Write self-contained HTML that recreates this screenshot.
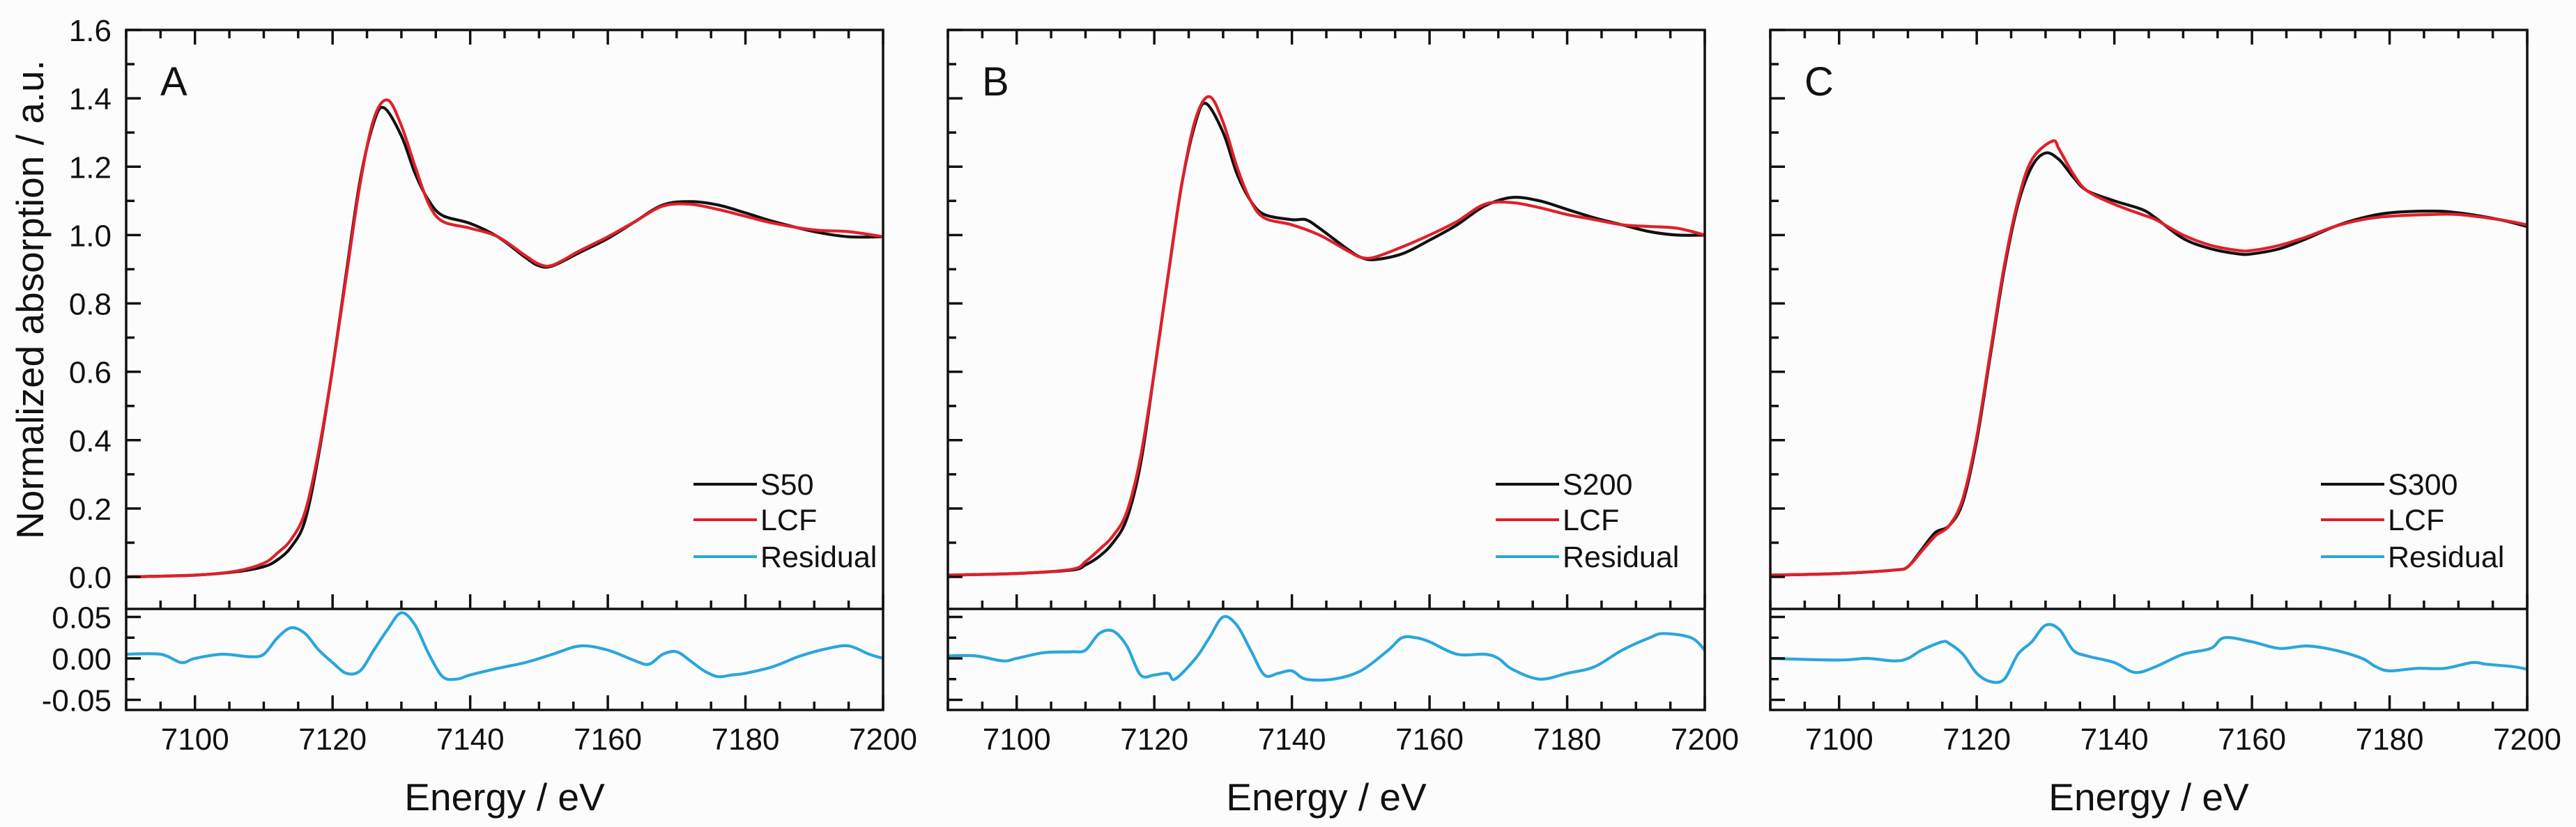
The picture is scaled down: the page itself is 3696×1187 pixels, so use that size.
<!DOCTYPE html>
<html><head><meta charset="utf-8"><style>
html,body{margin:0;padding:0;background:#fcfcfc;}
svg{display:block;font-family:"Liberation Sans",Arial,sans-serif;}
</style></head><body>
<svg id="fig" width="3696" height="1187" viewBox="0 0 3696 1187" xmlns="http://www.w3.org/2000/svg">
<rect x="0" y="0" width="3696" height="1187" fill="#fcfcfc"/>
<text x="62" y="430" font-size="55" text-anchor="middle" transform="rotate(-90 62 430)" fill="#111">Normalized absorption / a.u.</text>
</svg>
<script>
// ---- data ----
const xTicks = [7100, 7120, 7140, 7160, 7180, 7200];
const yTicksMain = [0.0, 0.2, 0.4, 0.6, 0.8, 1.0, 1.2, 1.4, 1.6];
const yTickLabelsMain = ["0.0","0.2","0.4","0.6","0.8","1.0","1.2","1.4","1.6"];
const yTicksRes = [-0.05, 0.00, 0.05];
const yTickLabelsRes = ["-0.05","0.00","0.05"];
const panelLetters = ["A", "B", "C"];
const sampleNames = ["S50", "S200", "S300"];

const eA_s = [7090,7100,7106,7110,7112,7114,7116,7118,7120,7122,7124,7126,7127.5,7130,7132,7134,7136,7140,7144,7148,7150,7152,7156,7160,7164,7168,7172,7176,7180,7184,7190,7195,7200];
const A_sample = [0.0,0.005,0.015,0.03,0.05,0.088,0.165,0.36,0.61,0.89,1.16,1.33,1.372,1.29,1.18,1.10,1.057,1.034,0.995,0.935,0.91,0.91,0.95,0.99,1.04,1.088,1.098,1.088,1.065,1.04,1.01,0.995,0.995];
const eA_f = [7090,7100,7106,7110,7112,7114,7116,7118,7120,7122,7124,7126,7128,7130,7132,7134,7136,7140,7144,7148,7150,7152,7156,7160,7164,7168,7172,7176,7180,7184,7190,7195,7200];
const A_fit = [0.0,0.005,0.017,0.04,0.07,0.11,0.19,0.37,0.61,0.88,1.15,1.34,1.395,1.32,1.20,1.09,1.04,1.02,0.995,0.94,0.915,0.912,0.955,0.995,1.04,1.085,1.09,1.075,1.055,1.035,1.015,1.01,0.995];
const eA_r = [7090,7095,7098,7100,7104,7108,7110,7112,7114,7116,7118,7120,7122,7124,7126,7128,7130,7132,7134,7136,7138,7140,7144,7148,7152,7156,7160,7164,7166,7168,7170,7172,7174,7176,7178,7180,7184,7188,7192,7195,7198,7200];
const A_res = [0.005,0.005,-0.005,0,0.005,0.002,0.005,0.025,0.037,0.03,0.01,-0.005,-0.018,-0.015,0.01,0.035,0.055,0.04,0.005,-0.022,-0.025,-0.02,-0.012,-0.005,0.005,0.015,0.01,-0.003,-0.007,0.005,0.008,-0.003,-0.015,-0.022,-0.02,-0.018,-0.01,0.003,0.012,0.015,0.005,0];

const eB_s = [7090,7100,7108,7110,7112,7114,7116,7118,7120,7122,7124,7126,7127.5,7130,7132,7134,7136,7140,7142,7144,7148,7150,7152,7156,7160,7164,7168,7172,7176,7180,7184,7188,7192,7196,7200];
const B_sample = [0.005,0.01,0.02,0.035,0.06,0.10,0.17,0.33,0.60,0.88,1.15,1.33,1.385,1.30,1.18,1.10,1.06,1.045,1.045,1.02,0.96,0.935,0.928,0.945,0.985,1.03,1.085,1.11,1.10,1.075,1.05,1.03,1.01,1.0,1.0];
const eB_f = [7090,7100,7108,7110,7112,7114,7116,7118,7120,7122,7124,7126,7128,7130,7132,7134,7136,7140,7144,7148,7150,7152,7156,7160,7164,7168,7172,7176,7180,7184,7188,7192,7196,7200];
const B_fit = [0.005,0.01,0.022,0.045,0.08,0.12,0.19,0.35,0.60,0.88,1.15,1.34,1.405,1.33,1.20,1.10,1.05,1.03,1.0,0.955,0.935,0.935,0.965,1.0,1.04,1.09,1.095,1.08,1.06,1.045,1.03,1.025,1.02,1.0];
const eB_r = [7090,7094,7098,7100,7104,7108,7110,7112,7114,7116,7118,7120,7122,7123,7126,7128,7130,7132,7134,7136,7138,7140,7142,7146,7150,7154,7156,7158,7160,7164,7168,7170,7172,7176,7180,7184,7188,7192,7194,7198,7200];
const B_res = [0.003,0.003,-0.003,0,0.007,0.008,0.01,0.03,0.033,0.015,-0.02,-0.02,-0.018,-0.025,0,0.025,0.05,0.04,0.01,-0.02,-0.018,-0.015,-0.025,-0.025,-0.015,0.01,0.025,0.025,0.02,0.005,0.005,0,-0.013,-0.025,-0.018,-0.01,0.01,0.025,0.03,0.025,0.01];

const eC_s = [7090,7100,7108,7110,7112,7114,7116,7118,7120,7122,7124,7126,7128,7130,7132,7134,7136,7140,7144,7146,7150,7154,7158,7160,7164,7168,7172,7176,7180,7186,7190,7196,7200];
const C_sample = [0.005,0.01,0.02,0.03,0.08,0.13,0.15,0.22,0.40,0.65,0.90,1.09,1.20,1.24,1.22,1.17,1.13,1.10,1.075,1.05,0.99,0.96,0.945,0.945,0.96,0.99,1.025,1.05,1.065,1.07,1.065,1.045,1.025];
const eC_f = [7090,7100,7108,7110,7112,7114,7116,7118,7120,7122,7124,7126,7128,7131,7132,7134,7136,7140,7144,7146,7150,7154,7158,7160,7164,7168,7172,7176,7180,7186,7190,7196,7200];
const C_fit = [0.005,0.01,0.02,0.03,0.075,0.12,0.15,0.23,0.41,0.66,0.91,1.10,1.22,1.275,1.25,1.18,1.13,1.09,1.06,1.045,1.0,0.97,0.955,0.955,0.97,0.995,1.025,1.045,1.055,1.06,1.06,1.045,1.03];
const eC_r = [7090,7100,7104,7108,7110,7112,7115,7116,7118,7120,7122,7124,7126,7128,7130,7132,7134,7136,7140,7143,7146,7150,7154,7156,7160,7164,7168,7172,7176,7178,7180,7184,7188,7192,7194,7198,7200];
const C_res = [0,-0.002,0,-0.003,0,0.01,0.02,0.018,0.005,-0.018,-0.028,-0.025,0.005,0.02,0.04,0.035,0.01,0.003,-0.005,-0.017,-0.01,0.005,0.012,0.025,0.02,0.012,0.015,0.01,0,-0.01,-0.015,-0.012,-0.012,-0.005,-0.007,-0.01,-0.013];

// ---- layout ----
const NS = "http://www.w3.org/2000/svg";
const svg = document.getElementById("fig");
const panelLefts = [181, 1360, 2540];
const panelW = 1086;
const mainTop = 43, mainBot = 874, resBot = 1019;
const xMin = 7090, xMax = 7200;
const y0Main = 828, y16Main = 43;
const resY0 = 945, resPerUnit = (1006 - 887) / 0.1;

function mk(tag, attrs, parent) {
  const el = document.createElementNS(NS, tag);
  for (const k in attrs) el.setAttribute(k, attrs[k]);
  (parent || svg).appendChild(el);
  return el;
}
function smoothPath(pts) {
  let d = "M" + pts[0][0].toFixed(1) + "," + pts[0][1].toFixed(1);
  for (let i = 0; i < pts.length - 1; i++) {
    const p0 = pts[Math.max(0, i - 1)], p1 = pts[i], p2 = pts[i + 1], p3 = pts[Math.min(pts.length - 1, i + 2)];
    const c1x = p1[0] + (p2[0] - p0[0]) / 6, c1y = p1[1] + (p2[1] - p0[1]) / 6;
    const c2x = p2[0] - (p3[0] - p1[0]) / 6, c2y = p2[1] - (p3[1] - p1[1]) / 6;
    d += "C" + c1x.toFixed(1) + "," + c1y.toFixed(1) + " " + c2x.toFixed(1) + "," + c2y.toFixed(1) + " " + p2[0].toFixed(1) + "," + p2[1].toFixed(1);
  }
  return d;
}

const panels = [
  {es: eA_s, s: A_sample, ef: eA_f, f: A_fit, er: eA_r, r: A_res},
  {es: eB_s, s: B_sample, ef: eB_f, f: B_fit, er: eB_r, r: B_res},
  {es: eC_s, s: C_sample, ef: eC_f, f: C_fit, er: eC_r, r: C_res}
];

panels.forEach((P, pi) => {
  const L = panelLefts[pi], R = L + panelW;
  const xs = v => L + (v - xMin) / (xMax - xMin) * panelW;
  const ysM = v => y0Main - v * (y0Main - y16Main) / 1.6;
  const ysR = v => resY0 - v * resPerUnit;
  const g = mk("g", {});
  
  

  const cid = "clipM" + pi, rid = "clipR" + pi;
  const defs = mk("defs", {}, g);
  const cp = mk("clipPath", {id: cid}, defs);
  mk("rect", {x: L, y: mainTop, width: panelW, height: mainBot - mainTop}, cp);
  const cr = mk("clipPath", {id: rid}, defs);
  mk("rect", {x: L, y: mainBot, width: panelW, height: resBot - mainBot}, cr);

  const sp = mk("path", {d: smoothPath(P.es.map((e, i) => [xs(e), ysM(P.s[i])])), fill: "none", stroke: "#111", "stroke-width": 4.2, "clip-path": "url(#" + cid + ")"}, g);
  
  
  const fp = mk("path", {d: smoothPath(P.ef.map((e, i) => [xs(e), ysM(P.f[i])])), fill: "none", stroke: "#e0202a", "stroke-width": 4.2, "clip-path": "url(#" + cid + ")"}, g);
  
  
  const rp = mk("path", {d: smoothPath(P.er.map((e, i) => [xs(e), ysR(P.r[i])])), fill: "none", stroke: "#2ba6dc", "stroke-width": 4.2, "clip-path": "url(#" + rid + ")"}, g);
  
  

  const fr = mk("rect", {x: L, y: mainTop, width: panelW, height: resBot - mainTop, fill: "none", stroke: "#111", "stroke-width": 3.5}, g);
  
  
  const sep = mk("line", {x1: L, x2: R, y1: mainBot, y2: mainBot, stroke: "#111", "stroke-width": 3.5}, g);
  
  

  for (let e = 7090; e <= 7200; e += 5) {
    const major = (e % 20 === 0);
    const len = major ? 21 : 12;
    const x = xs(e);
    [mainTop, mainBot, resBot].forEach(yb => {
      const dir = (yb === mainTop) ? 1 : -1;
      mk("line", {x1: x, x2: x, y1: yb, y2: yb + dir * len, stroke: "#111", "stroke-width": 3.5}, g);
    });
  }
  xTicks.forEach(t => {
    const tl = mk("text", {x: xs(t), y: 1076, "font-size": 44, "text-anchor": "middle", fill: "#111"}, g);
    tl.textContent = String(t);
    
    
  });

  for (let k = 0; k <= 16; k++) {
    const v = k * 0.1;
    const y = ysM(v);
    const len = (k % 2 === 0) ? 21 : 12;
    mk("line", {x1: L, x2: L + len, y1: y, y2: y, stroke: "#111", "stroke-width": 3.5}, g);
  }
  if (pi === 0) {
    yTicksMain.forEach((t, i) => {
      const tl = mk("text", {x: 160, y: ysM(t) + 16, "font-size": 44, "text-anchor": "end", fill: "#111"}, g);
      tl.textContent = yTickLabelsMain[i];
      
      
    });
    yTicksRes.forEach((t, i) => {
      const tl = mk("text", {x: 160, y: ysR(t) + 16, "font-size": 44, "text-anchor": "end", fill: "#111"}, g);
      tl.textContent = yTickLabelsRes[i];
      
      
    });
  }
  for (let k = -2; k <= 2; k++) {
    const v = k * 0.025;
    const len = (k % 2 === 0) ? 21 : 12;
    mk("line", {x1: L, x2: L + len, y1: ysR(v), y2: ysR(v), stroke: "#111", "stroke-width": 3.5}, g);
  }

  const pl = mk("text", {x: L + 49, y: 137, "font-size": 58, fill: "#111"}, g);
  pl.textContent = panelLetters[pi];
  
  

  const xt = mk("text", {x: L + panelW / 2, y: 1163, "font-size": 55, "text-anchor": "middle", fill: "#111"}, g);
  xt.textContent = "Energy / eV";
  
  

  const legNames = [sampleNames[pi], "LCF", "Residual"];
  const legCols = ["#111", "#e0202a", "#2ba6dc"];
  const legY = [695, 746, 799];
  const lx0 = (pi === 0) ? L + 814 : (pi === 1 ? L + 786 : L + 790);
  legNames.forEach((n, i) => {
    const lg = mk("g", {}, g);
    
    
    mk("line", {x1: lx0, x2: lx0 + 91, y1: legY[i], y2: legY[i], stroke: legCols[i], "stroke-width": 4}, lg);
    const lt = mk("text", {x: lx0 + 96, y: legY[i] + 15, "font-size": 43, fill: "#111"}, lg);
    lt.textContent = n;
  });
});
</script>
</body></html>
